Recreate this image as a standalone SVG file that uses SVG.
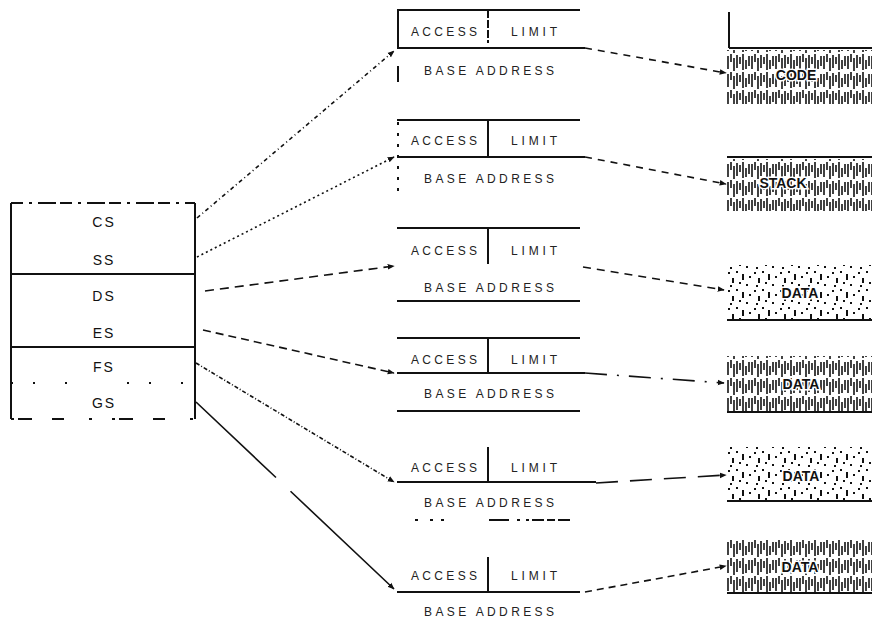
<svg xmlns="http://www.w3.org/2000/svg" width="872" height="619" viewBox="0 0 872 619">
<defs>
<style>
.ln{stroke:#111;stroke-width:2;fill:none}
.cn{stroke:#111;stroke-width:1.6;fill:none}
.t{font-family:"Liberation Sans",Arial,sans-serif;font-size:12px;fill:#222;text-anchor:middle;dominant-baseline:central}
.r{font-family:"Liberation Sans",Arial,sans-serif;font-size:14px;fill:#111;text-anchor:middle;dominant-baseline:central;letter-spacing:2px}
.s{font-family:"Liberation Sans",Arial,sans-serif;font-size:14px;font-weight:bold;fill:#111;text-anchor:middle;dominant-baseline:central;stroke:#fff;stroke-width:3;paint-order:stroke}
</style>
<marker id="ah" viewBox="0 0 10 10" refX="9" refY="5" markerWidth="7" markerHeight="7" orient="auto" markerUnits="userSpaceOnUse">
<path d="M0,1 L10,5 L0,9 z" fill="#111"/>
</marker>
<pattern id="dense" patternUnits="userSpaceOnUse" x="727" y="0" width="24" height="18">
<g stroke="#111" stroke-width="1.6">
<line x1="1" y1="2" x2="1" y2="15"/>
<line x1="4" y1="0" x2="4" y2="8"/>
<line x1="7" y1="4" x2="7" y2="17"/>
<line x1="10" y1="1" x2="10" y2="14"/>
<line x1="13" y1="3" x2="13" y2="10"/>
<line x1="16" y1="0" x2="16" y2="16"/>
<line x1="19" y1="6" x2="19" y2="15"/>
<line x1="22" y1="2" x2="22" y2="12"/>
</g>
</pattern>
<pattern id="sparse" patternUnits="userSpaceOnUse" x="727" y="0" width="26" height="18">
<g fill="#111">
<rect x="1" y="2" width="2" height="2"/>
<rect x="5" y="8" width="2" height="5"/>
<rect x="9" y="1" width="2" height="2"/>
<rect x="12" y="12" width="2" height="2"/>
<rect x="15" y="4" width="2" height="6"/>
<rect x="19" y="14" width="2" height="2"/>
<rect x="22" y="6" width="2" height="2"/>
<rect x="3" y="15" width="2" height="2"/>
</g>
</pattern>
</defs>
<rect width="872" height="619" fill="#fff"/>

<g id="registers">
<line class="ln" x1="11" y1="203" x2="11" y2="419"/>
<line class="ln" x1="195" y1="203" x2="195" y2="419"/>
<line class="ln" x1="11" y1="203" x2="195" y2="203" stroke-dasharray="12 6 3 6 18 4"/>
<line class="ln" x1="11" y1="274" x2="195" y2="274"/>
<line class="ln" x1="11" y1="347" x2="195" y2="347"/>
<line class="ln" x1="11" y1="383" x2="195" y2="383" stroke-dasharray="2 20 2 30 2 60"/>
<line class="ln" x1="11" y1="419" x2="195" y2="419" stroke-dasharray="3 4 14 20 12 25 3 20"/>
<text class="r" x="104" y="222">CS</text>
<text class="r" x="104" y="260">SS</text>
<text class="r" x="104" y="296">DS</text>
<text class="r" x="104" y="333">ES</text>
<text class="r" x="104" y="367">FS</text>
<text class="r" x="104" y="403">GS</text>
</g>

<g id="desc1">
<line class="ln" x1="397" y1="10" x2="580" y2="10"/>
<line class="ln" x1="398" y1="10" x2="398" y2="48"/>
<line class="ln" x1="398" y1="66" x2="398" y2="82"/>
<line class="ln" x1="488" y1="10" x2="488" y2="43" stroke-dasharray="8 2"/>
<line class="ln" x1="397" y1="48" x2="585" y2="48"/>
<text class="t" x="444" y="32" textLength="66" lengthAdjust="spacing">ACCESS</text>
<text class="t" x="534" y="32" textLength="46" lengthAdjust="spacing">LIMIT</text>
<text class="t" x="489" y="71" textLength="130" lengthAdjust="spacing">BASE ADDRESS</text>
</g>

<g id="desc2">
<line class="ln" x1="397" y1="120" x2="580" y2="120"/>
<line class="ln" x1="398" y1="122" x2="398" y2="195" stroke-dasharray="3 8"/>
<line class="ln" x1="488" y1="120" x2="488" y2="157"/>
<line class="ln" x1="397" y1="157" x2="585" y2="157"/>
<text class="t" x="444" y="141" textLength="66" lengthAdjust="spacing">ACCESS</text>
<text class="t" x="534" y="141" textLength="46" lengthAdjust="spacing">LIMIT</text>
<text class="t" x="489" y="179" textLength="130" lengthAdjust="spacing">BASE ADDRESS</text>
</g>

<g id="desc3">
<line class="ln" x1="397" y1="228" x2="580" y2="228"/>
<line class="ln" x1="488" y1="228" x2="488" y2="264"/>
<line class="ln" x1="397" y1="301" x2="580" y2="301"/>
<text class="t" x="444" y="251" textLength="66" lengthAdjust="spacing">ACCESS</text>
<text class="t" x="534" y="251" textLength="46" lengthAdjust="spacing">LIMIT</text>
<text class="t" x="489" y="288" textLength="130" lengthAdjust="spacing">BASE ADDRESS</text>
</g>

<g id="desc4">
<line class="ln" x1="397" y1="338" x2="580" y2="338"/>
<line class="ln" x1="488" y1="338" x2="488" y2="373"/>
<line class="ln" x1="397" y1="373" x2="585" y2="373"/>
<line class="ln" x1="397" y1="411" x2="580" y2="411"/>
<text class="t" x="444" y="360" textLength="66" lengthAdjust="spacing">ACCESS</text>
<text class="t" x="534" y="360" textLength="46" lengthAdjust="spacing">LIMIT</text>
<text class="t" x="489" y="394" textLength="130" lengthAdjust="spacing">BASE ADDRESS</text>
</g>

<g id="desc5">
<line class="ln" x1="488" y1="447" x2="488" y2="482"/>
<line class="ln" x1="397" y1="482" x2="596" y2="482"/>
<line class="ln" x1="415" y1="520" x2="570" y2="520" stroke-dasharray="3 12 3 8 3 45 20 8 3 6 3"/>
<text class="t" x="444" y="468" textLength="66" lengthAdjust="spacing">ACCESS</text>
<text class="t" x="534" y="468" textLength="46" lengthAdjust="spacing">LIMIT</text>
<text class="t" x="489" y="503" textLength="130" lengthAdjust="spacing">BASE ADDRESS</text>
</g>

<g id="desc6">
<line class="ln" x1="488" y1="557" x2="488" y2="592"/>
<line class="ln" x1="397" y1="592" x2="580" y2="592"/>
<text class="t" x="444" y="576" textLength="66" lengthAdjust="spacing">ACCESS</text>
<text class="t" x="534" y="576" textLength="46" lengthAdjust="spacing">LIMIT</text>
<text class="t" x="489" y="612" textLength="130" lengthAdjust="spacing">BASE ADDRESS</text>
</g>

<g id="seg-code">
<line class="ln" x1="729" y1="12" x2="729" y2="48"/>
<line class="ln" x1="729" y1="48" x2="872" y2="48"/>
<rect x="727" y="50" width="145" height="54" fill="url(#dense)"/>
<text class="s" x="796" y="75">CODE</text>
</g>

<g id="seg-stack">
<line class="ln" x1="727" y1="157" x2="872" y2="157"/>
<rect x="727" y="159" width="145" height="52" fill="url(#dense)"/>
<text class="s" x="783" y="183">STACK</text>
</g>

<g id="seg-data1">
<rect x="727" y="265" width="145" height="54" fill="url(#sparse)"/>
<line class="ln" x1="727" y1="320" x2="872" y2="320"/>
<text class="s" x="800" y="293">DATA</text>
</g>

<g id="seg-data2">
<rect x="727" y="356" width="145" height="55" fill="url(#dense)"/>
<line class="ln" x1="727" y1="412" x2="872" y2="412"/>
<text class="s" x="801" y="384">DATA</text>
</g>

<g id="seg-data3">
<rect x="727" y="447" width="145" height="53" fill="url(#sparse)"/>
<line class="ln" x1="727" y1="501" x2="872" y2="501"/>
<text class="s" x="801" y="476">DATA</text>
</g>

<g id="seg-data4">
<rect x="727" y="539" width="145" height="53" fill="url(#dense)"/>
<line class="ln" x1="727" y1="593" x2="872" y2="593"/>
<text class="s" x="800" y="567">DATA</text>
</g>

<g id="connectors">
<line class="cn" x1="197" y1="218" x2="394" y2="51" stroke-dasharray="4 3 1 3" marker-end="url(#ah)"/>
<line class="cn" x1="197" y1="257" x2="394" y2="157" stroke-dasharray="2 3" marker-end="url(#ah)"/>
<line class="cn" x1="205" y1="291" x2="394" y2="266" stroke-dasharray="9 6" marker-end="url(#ah)"/>
<line class="cn" x1="203" y1="330" x2="394" y2="373" stroke-dasharray="8 5" marker-end="url(#ah)"/>
<line class="cn" x1="196" y1="363" x2="394" y2="482" stroke-dasharray="4 2 1 2" marker-end="url(#ah)"/>
<line class="cn" x1="196" y1="402" x2="394" y2="589" stroke-dasharray="110 20 400" marker-end="url(#ah)"/>
<line class="cn" x1="585" y1="48" x2="726" y2="73" stroke-dasharray="7 6" marker-end="url(#ah)"/>
<line class="cn" x1="585" y1="157" x2="726" y2="184" stroke-dasharray="7 6" marker-end="url(#ah)"/>
<line class="cn" x1="583" y1="267" x2="724" y2="290" stroke-dasharray="8 6" marker-end="url(#ah)"/>
<line class="cn" x1="585" y1="373" x2="724" y2="383" stroke-dasharray="22 10 2 10" marker-end="url(#ah)"/>
<line class="cn" x1="596" y1="483" x2="726" y2="475" stroke-dasharray="22 12" marker-end="url(#ah)"/>
<line class="cn" x1="585" y1="592" x2="726" y2="566" stroke-dasharray="7 5" marker-end="url(#ah)"/>
</g>
</svg>
